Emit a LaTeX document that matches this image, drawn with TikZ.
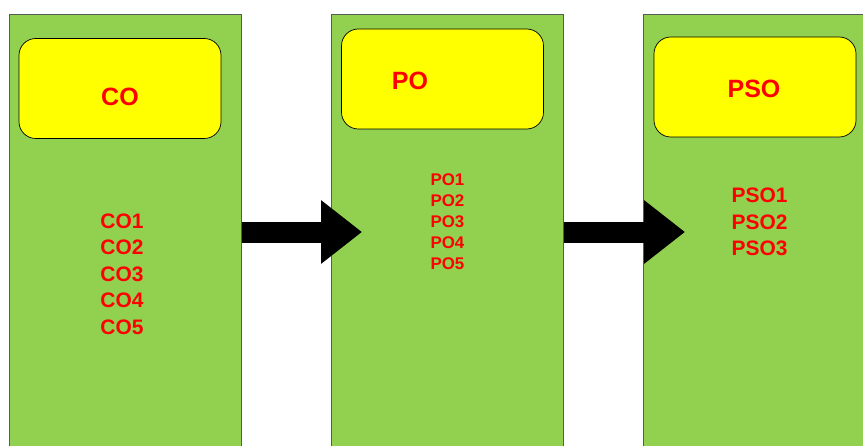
\documentclass[tikz,border=0pt]{standalone}
\usepackage{fontspec}
\setmainfont{Liberation Sans}
\usetikzlibrary{arrows.meta}
\usetikzlibrary{positioning}
\definecolor{colgreen}{HTML}{92D050}
\definecolor{titleyellow}{HTML}{FFFF00}
\tikzset{
  column/.style={draw=black!65, fill=colgreen, line width=0.6pt, minimum width=5.8cm, minimum height=11.4cm, anchor=north west, inner sep=0pt},
  titlebox/.style={draw=black, fill=titleyellow, rounded corners=0.42cm, minimum width=5.05cm, minimum height=2.5cm, inner sep=0pt, line width=0.5pt},
  title/.style={text=red, font=\bfseries\fontsize{17.8}{20}\selectfont},
  items/.style={text=red, align=left, inner sep=0pt, font=\bfseries\fontsize{14.9}{18.8}\selectfont},
  smallitems/.style={text=red, align=left, inner sep=0pt, font=\bfseries\fontsize{12}{15}\selectfont},
  bigarrow/.style={line width=0.525cm, -{Triangle[length=1.025cm, width=1.525cm]}}
}
\begin{document}
\begin{tikzpicture}
  \useasboundingbox (0,0) rectangle (21.575,-11.15);
  \clip (0,0) rectangle (21.575,-11.15);
  % the three columns
  \node[column] (col1) at (0.225,-0.35) {};
  \node[column] (col2) at (8.275,-0.35) {};
  \node[column] (col3) at (16.075,-0.35) {};
  % yellow title boxes
  \node[titlebox] (box1) at (3.0,-2.2125) {};
  \node[titlebox] (box2) at (11.0625,-1.975) {};
  \node[titlebox] (box3) at (18.875,-2.175) {};
  \node[title] (co) at (3.0,-2.425) {CO};
  \node[title] (po) at (10.25,-2.025) {PO};
  \node[title] (pso) at (18.85,-2.225) {PSO};
  % lists
  \node[items] (colist) at (3.05,-6.85) {CO1\\CO2\\CO3\\CO4\\CO5};
  \node[smallitems] (polist) at (11.185,-5.54) {PO1\\PO2\\PO3\\PO4\\PO5};
  \node[items] (psolist) at (18.99,-5.55) {PSO1\\PSO2\\PSO3};
  % arrows
  \coordinate (tip1) at (9.05,-5.8);
  \coordinate (tip2) at (17.125,-5.8);
  \draw[bigarrow] (col1.east |- tip1) -- (tip1);
  \draw[bigarrow] (col2.east |- tip2) -- (tip2);
\end{tikzpicture}
\end{document}
